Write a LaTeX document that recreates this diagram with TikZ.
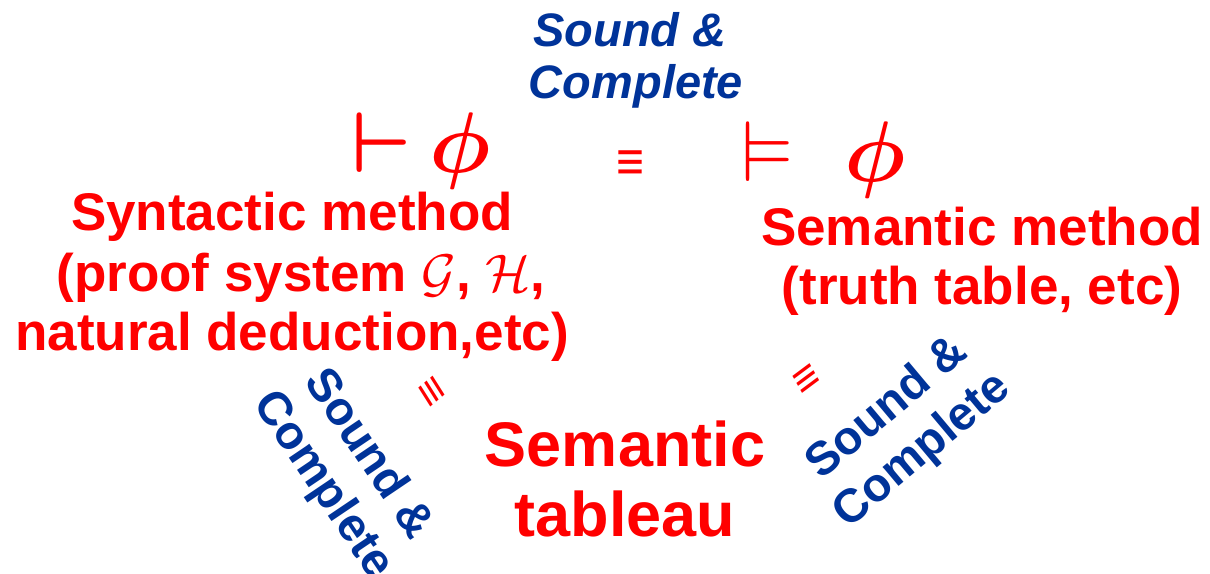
\RequirePackage{fix-cm}
\documentclass[tikz,border=0pt]{standalone}
\usepackage{amsmath}
\usepackage{amssymb}
\usepackage{fontspec}
\setmainfont{Liberation Sans}
\definecolor{dkblue}{RGB}{0,51,153}
\definecolor{brred}{RGB}{255,0,0}
\begin{document}
\begin{tikzpicture}[x=1pt,y=1pt,
  redtxt/.style={text=brred, font=\bfseries\fontsize{53}{60}\selectfont, inner sep=0pt, anchor=base},
  bigred/.style={text=brred, font=\bfseries\fontsize{63}{70}\selectfont, inner sep=0pt, anchor=base},
  titletxt/.style={text=dkblue, font=\bfseries\itshape\fontsize{47}{52}\selectfont, inner sep=0pt, anchor=base},
  sidetxt/.style={text=dkblue, font=\bfseries\fontsize{47}{55}\selectfont, inner sep=0pt, align=center},
  mathtxt/.style={text=brred, font=\fontsize{10}{12}\selectfont\boldmath, scale=8.6, inner sep=0pt, anchor=base},
  equivtxt/.style={text=brred, font=\bfseries\fontsize{48}{48}\selectfont, inner sep=0pt, yscale=1.15}]
\useasboundingbox (0,0) rectangle (1210,573);
% title
\node[titletxt] (t1) at (630,526) {Sound \&};
\node[titletxt] (t2) at (636,474) {Complete};
% turnstiles
\node[mathtxt] (vd) at (382,400) {$\vdash$};
\node[mathtxt] (ph1) at (460,400) {$\phi$};
\node[mathtxt] (vD) at (768,391) {$\vDash$};
\node[mathtxt] (ph2) at (875,391) {$\phi$};
\node[equivtxt] (eqtop) at (630,407) {≡};
% syntactic
\node[redtxt] (s1) at (292,342) {Syntactic method};
\node[redtxt] (s2) at (301,281) {(proof system $\mathcal{G}$, $\mathcal{H}$,};
\node[redtxt] (s3) at (292,222) {natural deduction,etc)};
% semantic
\node[redtxt] (m1) at (982,327) {Semantic method};
\node[redtxt] (m2) at (982,268) {(truth table, etc)};
% tableau
\node[bigred] (b1) at (625,106) {Semantic};
\node[bigred] (b2) at (625,36) {tableau};
% side equivs
\node[equivtxt, font=\bfseries\fontsize{42}{42}\selectfont, rotate=-54] (eql) at (430,180) {≡};
\node[equivtxt, font=\bfseries\fontsize{42}{42}\selectfont, rotate=33] (eqr) at (808,192) {≡};
% side labels
\node[sidetxt, rotate=-56] (sl) at (345,103) {Sound \&\\Complete};
\node[sidetxt, rotate=40] (sr) at (905,143) {Sound \&\\Complete};
\end{tikzpicture}
\end{document}
